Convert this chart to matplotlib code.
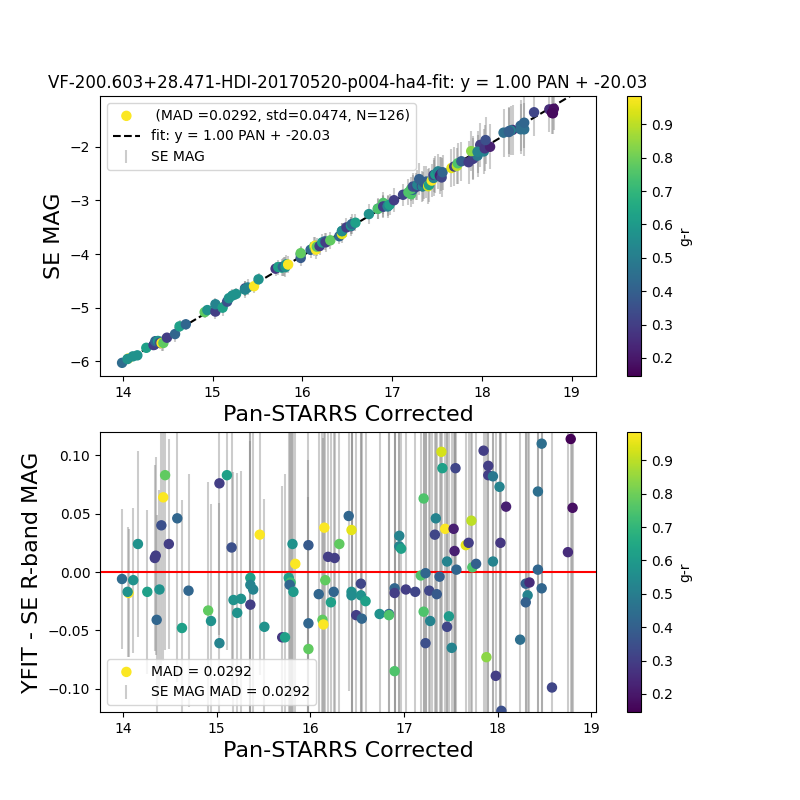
import numpy as np
import matplotlib
matplotlib.use("Agg")
import matplotlib.pyplot as plt

# fit from the title
fit_slope = 1.00
fit_int = -20.03

# Pan-STARRS corrected magnitude, residual (YFIT - SE), g-r colour, SE MAG error
pan = [14.06, 13.99, 14.05, 14.11, 14.16, 14.26, 14.34, 14.35, 14.36, 14.39,
       14.41, 14.43, 14.45, 14.49, 14.58, 14.63, 14.70, 14.91, 14.94, 15.03,
       15.03, 15.11, 15.16, 15.18, 15.22, 15.26, 15.36, 15.36, 15.36, 15.39,
       15.46, 15.51, 15.70, 15.73, 15.77, 15.79, 15.78, 15.81, 15.82, 15.84,
       15.98, 15.98, 15.98, 16.09, 16.13, 16.14, 16.15, 16.16, 16.19, 16.22,
       16.25, 16.26, 16.31, 16.41, 16.44, 16.44, 16.44, 16.49, 16.54, 16.54,
       16.55, 16.59, 16.74, 16.84, 16.84, 16.90, 16.90, 16.90, 16.95, 16.95,
       16.97, 17.02, 17.12, 17.18, 17.21, 17.23, 17.21, 17.23, 17.27, 17.28,
       17.33, 17.34, 17.35, 17.38, 17.40, 17.41, 17.44, 17.46, 17.46, 17.48,
       17.51, 17.53, 17.54, 17.55, 17.56, 17.66, 17.69, 17.72, 17.73, 17.77,
       17.85, 17.90, 17.90, 17.95, 18.02, 17.88, 17.98, 17.95, 18.03, 18.09,
       18.04, 18.24, 18.30, 18.34, 18.32, 18.30, 18.43, 18.43, 18.47, 18.47,
       18.58, 18.75, 18.78, 18.80, 18.79, 17.30]

resid = [-0.018, -0.006, -0.017, -0.007, 0.024, -0.017, 0.012, 0.014, -0.041, -0.015,
         0.040, 0.064, 0.083, 0.024, 0.046, -0.048, -0.016, -0.033, -0.042, 0.076,
         -0.061, 0.083, 0.021, -0.024, -0.035, -0.023, -0.028, -0.005, -0.011, -0.015,
         0.032, -0.047, -0.056, -0.056, -0.005, -0.009, -0.011, 0.024, -0.017, 0.007,
         0.023, -0.044, -0.066, -0.019, -0.041, -0.045, 0.038, -0.007, 0.013, -0.026,
         -0.017, 0.012, 0.024, 0.048, 0.036, -0.017, -0.020, -0.037, -0.010, -0.020,
         -0.040, -0.025, -0.036, -0.036, -0.037, -0.085, -0.014, -0.018, 0.031, 0.022,
         0.020, -0.015, -0.017, -0.003, 0.063, -0.001, -0.034, -0.061, -0.016, -0.042,
         0.032, 0.046, -0.019, -0.004, 0.103, 0.089, 0.037, 0.009, -0.047, -0.038,
         -0.065, 0.037, 0.018, 0.089, 0.002, 0.023, 0.025, 0.044, 0.004, 0.007,
         0.104, 0.091, 0.083, 0.082, 0.073, -0.073, -0.089, 0.009, 0.025, 0.056,
         -0.119, -0.058, -0.010, -0.009, -0.020, -0.026, 0.002, 0.069, 0.110, -0.014,
         -0.099, 0.017, 0.114, 0.055, 0.130, -0.130]

gr = [0.98, 0.44, 0.57, 0.57, 0.57, 0.62, 0.30, 0.30, 0.42, 0.57,
      0.35, 0.98, 0.78, 0.30, 0.42, 0.62, 0.42, 0.78, 0.57, 0.30,
      0.52, 0.62, 0.35, 0.57, 0.57, 0.57, 0.30, 0.62, 0.52, 0.52,
      0.98, 0.57, 0.28, 0.62, 0.62, 0.72, 0.42, 0.57, 0.60, 0.98,
      0.38, 0.42, 0.78, 0.42, 0.78, 0.98, 0.98, 0.78, 0.30, 0.62,
      0.42, 0.30, 0.78, 0.42, 0.95, 0.57, 0.55, 0.30, 0.32, 0.57,
      0.42, 0.62, 0.57, 0.42, 0.75, 0.75, 0.42, 0.30, 0.52, 0.52,
      0.62, 0.30, 0.32, 0.75, 0.75, 0.42, 0.75, 0.35, 0.32, 0.52,
      0.32, 0.52, 0.38, 0.40, 0.93, 0.62, 0.98, 0.52, 0.32, 0.60,
      0.52, 0.22, 0.22, 0.32, 0.42, 0.95, 0.30, 0.90, 0.75, 0.40,
      0.30, 0.30, 0.30, 0.48, 0.52, 0.84, 0.30, 0.52, 0.28, 0.22,
      0.35, 0.45, 0.40, 0.25, 0.52, 0.40, 0.42, 0.45, 0.45, 0.42,
      0.32, 0.25, 0.15, 0.18, 0.17, 0.40]

err = [0.055, 0.060, 0.056, 0.062, 0.080, 0.070, 0.080, 0.085, 0.090, 0.085,
       0.120, 0.140, 0.150, 0.090, 0.140, 0.110, 0.100, 0.110, 0.100, 0.130,
       0.120, 0.150, 0.120, 0.110, 0.120, 0.110, 0.140, 0.160, 0.130, 0.150,
       0.120, 0.110, 0.130, 0.140, 0.160, 0.180, 0.170, 0.180, 0.170, 0.160,
       0.150, 0.140, 0.130, 0.150, 0.170, 0.160, 0.180, 0.170, 0.160, 0.150,
       0.160, 0.180, 0.160, 0.150, 0.170, 0.160, 0.150, 0.170, 0.180, 0.160,
       0.180, 0.160, 0.180, 0.200, 0.190, 0.210, 0.220, 0.200, 0.210, 0.190,
       0.200, 0.220, 0.210, 0.240, 0.230, 0.270, 0.220, 0.260, 0.250, 0.280,
       0.290, 0.270, 0.310, 0.300, 0.330, 0.310, 0.300, 0.330, 0.310, 0.340,
       0.330, 0.350, 0.320, 0.360, 0.330, 0.350, 0.370, 0.340, 0.380, 0.360,
       0.400, 0.380, 0.410, 0.390, 0.420, 0.380, 0.410, 0.390, 0.430, 0.420,
       0.440, 0.450, 0.460, 0.470, 0.460, 0.430, 0.480, 0.470, 0.500, 0.480,
       0.450, 0.420, 0.400, 0.390, 0.380, 0.300]

pan = np.array(pan)
resid = np.array(resid)
gr = np.array(gr)
err = np.array(err)
se_mag = fit_slope * pan + fit_int - resid

title = "VF-200.603+28.471-HDI-20170520-p004-ha4-fit: y = 1.00 PAN + -20.03"

fig = plt.figure(figsize=(8, 8), dpi=100)

# top: SE MAG vs Pan-STARRS
ax1 = plt.subplot(2, 1, 1)
plt.errorbar(pan, se_mag, yerr=err, fmt='none', ecolor='gray', alpha=0.4,
             elinewidth=1.5, label='SE MAG', zorder=2)
sc = plt.scatter(pan, se_mag, c=gr, cmap='viridis', vmin=0.146, vmax=0.985, s=42,
                 label=' (MAD =0.0292, std=0.0474, N=126)', zorder=3)
xline = np.linspace(14.0, 19.3, 2)
plt.plot(xline, fit_slope * xline + fit_int, 'k--',
         label='fit: y = 1.00 PAN + -20.03', zorder=2.5)
plt.colorbar(sc, label='g-r')
plt.xlim(13.744, 19.27)
plt.ylim(-6.28, -1.047)
plt.xlabel('Pan-STARRS Corrected', fontsize=16)
plt.ylabel('SE MAG', fontsize=16)
plt.title(title)
plt.legend(loc='upper left')

# bottom: residuals
ax2 = plt.subplot(2, 1, 2)
plt.errorbar(pan, resid, yerr=err, fmt='none', ecolor='gray', alpha=0.4,
             elinewidth=1.5, label='SE MAG MAD = 0.0292', zorder=2)
sc2 = plt.scatter(pan, resid, c=gr, cmap='viridis', vmin=0.146, vmax=0.985, s=42,
                  label='MAD = 0.0292', zorder=3)
plt.axhline(0, color='r', zorder=2.5)
plt.colorbar(sc2, label='g-r')
plt.xlim(13.755, 19.05)
plt.ylim(-0.12, 0.12)
plt.xlabel('Pan-STARRS Corrected', fontsize=16)
plt.ylabel('YFIT - SE R-band MAG', fontsize=16)
plt.legend(loc='lower left')

plt.savefig('out.png')
